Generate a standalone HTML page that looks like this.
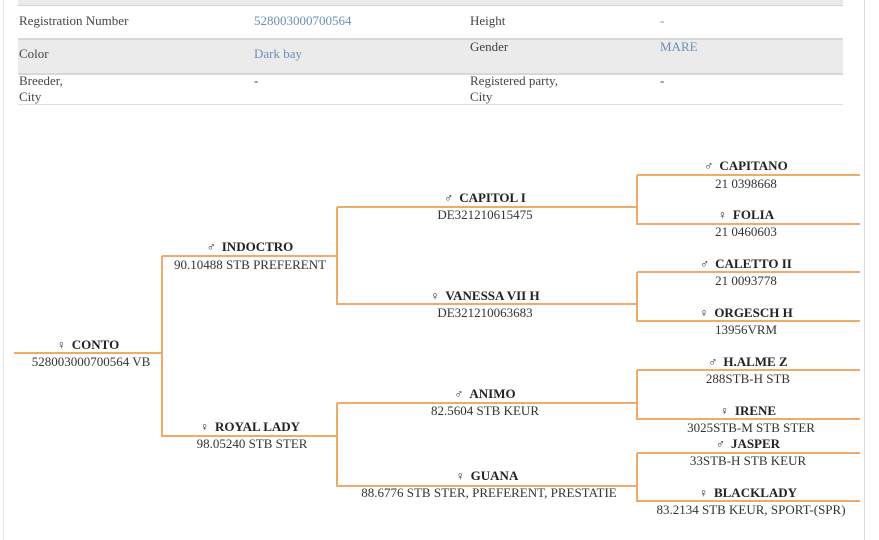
<!DOCTYPE html>
<html><head><meta charset="utf-8"><style>
body{margin:0;width:879px;height:540px;background:#fff;position:relative;overflow:hidden;font-family:"Liberation Serif",serif;}
.t{position:absolute;font-size:13px;color:#444;white-space:nowrap}
.b{color:#6a8fb5}
.h{position:absolute;height:2px;margin-top:-1px;background:#f0aa6c}
.v{position:absolute;width:2px;margin-left:-1px;background:#f0aa6c}
.n{position:absolute;font-size:13px;font-weight:bold;color:#222;white-space:nowrap;transform:translateX(-50%)}
.s{position:absolute;font-size:13px;color:#333;white-space:nowrap;transform:translateX(-50%)}
.n i{font-style:normal;font-weight:normal;font-size:12px;margin-right:6px}
</style></head><body>
<div style="position:absolute;left:3px;top:0;width:1px;height:540px;background:#e4e4e4"></div>
<div style="position:absolute;left:864px;top:0;width:1px;height:540px;background:#dcdcdc"></div>
<div style="position:absolute;left:18px;top:0;width:825px;height:5px;background:#ebebeb;border-bottom:1px solid #d4d4d4"></div>
<div style="position:absolute;left:18px;top:38px;width:825px;height:33px;background:#ebebeb;border-top:2px solid #d8d8d8;border-bottom:2px solid #d8d8d8"></div>
<div style="position:absolute;left:18px;top:104px;width:825px;height:1px;background:#e0e0e0"></div>
<div class="t" style="left:19px;top:13px">Registration Number</div>
<div class="t b" style="left:254px;top:13px">528003000700564</div>
<div class="t" style="left:470px;top:13px">Height</div>
<div class="t b" style="left:660px;top:13px">-</div>
<div class="t" style="left:19px;top:46px">Color</div>
<div class="t b" style="left:254px;top:46px">Dark bay</div>
<div class="t" style="left:470px;top:39px">Gender</div>
<div class="t b" style="left:660px;top:39px">MARE</div>
<div class="t" style="left:19px;top:73px;line-height:16px">Breeder,<br>City</div>
<div class="t" style="left:254px;top:73px">-</div>
<div class="t" style="left:470px;top:73px;line-height:16px">Registered party,<br>City</div>
<div class="t" style="left:660px;top:73px">-</div>

<div class="h" style="left:14px;top:353px;width:148px"></div>
<div class="v" style="left:162px;top:256px;height:181px"></div>
<div class="h" style="left:162px;top:256px;width:175px"></div>
<div class="h" style="left:162px;top:436px;width:175px"></div>
<div class="v" style="left:337px;top:207px;height:98px"></div>
<div class="v" style="left:337px;top:403px;height:84px"></div>
<div class="h" style="left:337px;top:207px;width:300px"></div>
<div class="h" style="left:337px;top:304px;width:300px"></div>
<div class="h" style="left:337px;top:403px;width:300px"></div>
<div class="h" style="left:337px;top:486px;width:300px"></div>
<div class="v" style="left:637px;top:175px;height:50px"></div>
<div class="v" style="left:637px;top:272px;height:50px"></div>
<div class="v" style="left:637px;top:370px;height:50px"></div>
<div class="v" style="left:637px;top:453px;height:49px"></div>
<div class="h" style="left:637px;top:175px;width:223px"></div>
<div class="h" style="left:637px;top:224px;width:223px"></div>
<div class="h" style="left:637px;top:272px;width:223px"></div>
<div class="h" style="left:637px;top:321px;width:223px"></div>
<div class="h" style="left:637px;top:370px;width:223px"></div>
<div class="h" style="left:637px;top:419px;width:223px"></div>
<div class="h" style="left:637px;top:453px;width:223px"></div>
<div class="h" style="left:637px;top:501px;width:223px"></div>

<div class="n" style="left:88px;top:337px"><i>♀</i>CONTO</div>
<div class="s" style="left:91px;top:354px">528003000700564 VB</div>
<div class="n" style="left:250px;top:239px"><i>♂</i>INDOCTRO</div>
<div class="s" style="left:250px;top:257px">90.10488 STB PREFERENT</div>
<div class="n" style="left:250px;top:419px"><i>♀</i>ROYAL LADY</div>
<div class="s" style="left:252px;top:436px">98.05240 STB STER</div>
<div class="n" style="left:485px;top:190px"><i>♂</i>CAPITOL I</div>
<div class="s" style="left:485px;top:207px">DE321210615475</div>
<div class="n" style="left:485px;top:288px"><i>♀</i>VANESSA VII H</div>
<div class="s" style="left:485px;top:305px">DE321210063683</div>
<div class="n" style="left:485px;top:386px"><i>♂</i>ANIMO</div>
<div class="s" style="left:485px;top:403px">82.5604 STB KEUR</div>
<div class="n" style="left:487px;top:468px"><i>♀</i>GUANA</div>
<div class="s" style="left:489px;top:485px">88.6776 STB STER, PREFERENT, PRESTATIE</div>
<div class="n" style="left:746px;top:158px"><i>♂</i>CAPITANO</div>
<div class="s" style="left:746px;top:176px">21 0398668</div>
<div class="n" style="left:746px;top:207px"><i>♀</i>FOLIA</div>
<div class="s" style="left:746px;top:224px">21 0460603</div>
<div class="n" style="left:746px;top:256px"><i>♂</i>CALETTO II</div>
<div class="s" style="left:746px;top:273px">21 0093778</div>
<div class="n" style="left:746px;top:305px"><i>♀</i>ORGESCH H</div>
<div class="s" style="left:746px;top:322px">13956VRM</div>
<div class="n" style="left:748px;top:354px"><i>♂</i>H.ALME Z</div>
<div class="s" style="left:748px;top:371px">288STB-H STB</div>
<div class="n" style="left:748px;top:403px"><i>♀</i>IRENE</div>
<div class="s" style="left:751px;top:420px">3025STB-M STB STER</div>
<div class="n" style="left:748px;top:436px"><i>♂</i>JASPER</div>
<div class="s" style="left:748px;top:453px">33STB-H STB KEUR</div>
<div class="n" style="left:748px;top:485px"><i>♀</i>BLACKLADY</div>
<div class="s" style="left:751px;top:502px">83.2134 STB KEUR, SPORT-(SPR)</div>
</body></html>
